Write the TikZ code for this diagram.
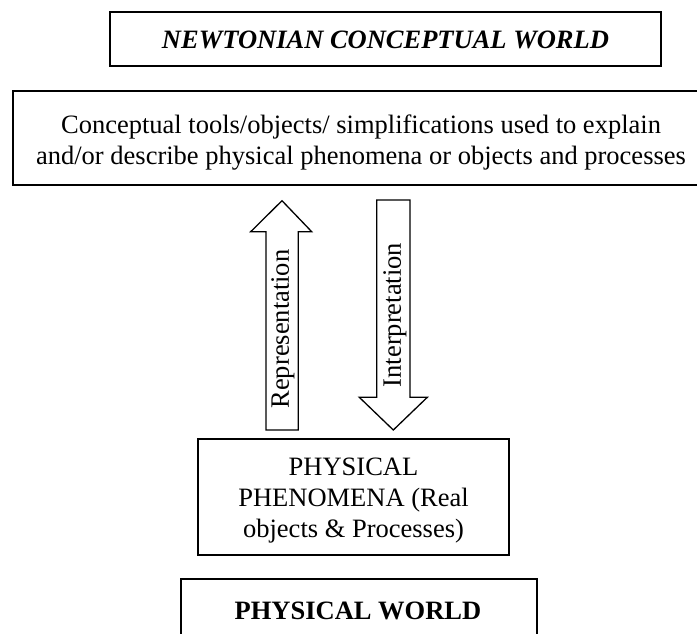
\documentclass[tikz,border=0pt]{standalone}
\usepackage{fontspec}
\setmainfont{Liberation Serif}
\begin{document}
\begin{tikzpicture}[x=1pt,y=-1pt,
  box/.style={draw, line width=1.3pt},
  blockarrow/.style={draw, line width=1.3pt, line join=miter, fill=white},
  txt/.style={font=\fontsize{26.5}{31}\selectfont, align=center, inner sep=0pt},
  txtb/.style={font=\fontsize{26.5}{31}\selectfont\bfseries, align=center, inner sep=0pt},
  txtbi/.style={font=\fontsize{26.5}{31}\selectfont\bfseries\itshape, align=center, inner sep=0pt}]
\useasboundingbox (0,0) rectangle (697,633);
\clip (0,0) rectangle (697,633);
% top title box
\draw[box] (110,12) rectangle (661,66);
\node[txtbi] (title) at (385.5,40) {NEWTONIAN CONCEPTUAL WORLD};
% conceptual box
\draw[box] (13,91) rectangle (710,185);
\node[txt] (concept) at (361,143) {Conceptual tools/objects/ simplifications used to explain\\and/or describe physical phenomena or objects and processes};
% up arrow (Representation)
\draw[blockarrow] (266,430) -- (266,231.7) -- (250.7,231.7) -- (282,200.7) -- (311.7,231.7) -- (298.3,231.7) -- (298.3,430) -- cycle;
\node[txt, rotate=90] (repr) at (283,329) {Representation};
% down arrow (Interpretation)
\draw[blockarrow] (376.7,200) -- (376.7,397.3) -- (359.3,397.3) -- (393.3,430) -- (427.3,397.3) -- (410,397.3) -- (410,200) -- cycle;
\node[txt, rotate=90] (interp) at (395,315) {Interpretation};
% phenomena box
\draw[box] (198,439) rectangle (509,555);
\node[txt] (phen) at (353.5,501) {PHYSICAL\\PHENOMENA (Real\\objects \& Processes)};
% physical world box (open at bottom edge)
\draw[box] (181,650) -- (181,579) -- (537,579) -- (537,650);
\node[txtb] (world) at (358,611) {PHYSICAL WORLD};
\end{tikzpicture}
\end{document}
